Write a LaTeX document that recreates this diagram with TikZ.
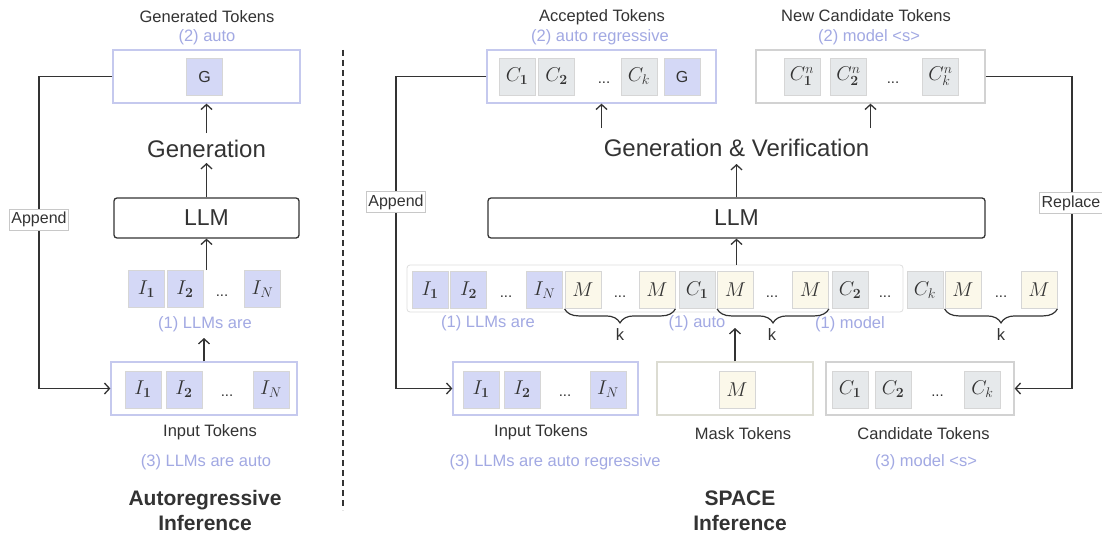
\RequirePackage{fix-cm}
\documentclass[tikz,border=0pt]{standalone}
\usepackage[no-math]{fontspec}
\setmainfont{Liberation Sans}
\usetikzlibrary{arrows.meta,decorations.pathreplacing,calc}
\definecolor{ink}{HTML}{333333}
\definecolor{lav}{HTML}{D4D8F6}
\definecolor{lavline}{HTML}{C5C9EE}
\definecolor{purp}{HTML}{A2A9E3}
\definecolor{cgray}{HTML}{E6E9EB}
\definecolor{cyel}{HTML}{FBF8EA}
\definecolor{cellline}{HTML}{D6D6D6}
\definecolor{boxgray}{HTML}{D2D2D2}
\definecolor{rowgray}{HTML}{DEDEDE}
\definecolor{maskgray}{HTML}{DCDCD2}
\definecolor{taggray}{HTML}{C8C8C8}
\tikzset{
 tok/.style={draw=cellline, line width=0.8pt, minimum width=36pt, minimum height=37pt, inner sep=0pt, font=\fontsize{20}{22}\selectfont, text=ink},
 tI/.style={tok, fill=lav},
 tC/.style={tok, fill=cgray},
 tM/.style={tok, fill=cyel},
 tG/.style={tok, fill=lav, font=\fontsize{16}{18}\selectfont},
 dt/.style={anchor=base, inner sep=0pt, font=\fontsize{15}{18}\selectfont, text=ink},
 grpL/.style={draw=lavline, line width=1.3pt, fill=white, inner sep=0pt, minimum height=53pt},
 grpG/.style={draw=boxgray, line width=1.3pt, fill=white, inner sep=0pt, minimum height=53pt},
 grpM/.style={draw=maskgray, line width=1.3pt, fill=white, inner sep=0pt, minimum height=53pt},
 llmbox/.style={draw=ink, line width=1.3pt, rounded corners=3pt, inner sep=0pt, minimum height=40pt, font=\fontsize{23}{26}\selectfont, text=ink},
 lab/.style={anchor=base, inner sep=0pt, font=\fontsize{16.5}{19}\selectfont, text=ink},
 plab/.style={lab, text=purp},
 big/.style={anchor=base, inner sep=0pt, font=\fontsize{24}{28}\selectfont, text=ink},
 ttl/.style={anchor=base, inner sep=0pt, font=\fontsize{21}{24}\selectfont\bfseries, text=ink},
 tag/.style={draw=taggray, line width=0.8pt, fill=white, inner xsep=2pt, inner ysep=3pt, font=\fontsize{16}{18}\selectfont, text=ink},
 arr/.style={draw=ink, line width=1.3pt, -{Straight Barb[length=5pt,width=11pt]}},
 brc/.style={draw=ink, line width=1.2pt, decorate, decoration={brace, mirror, amplitude=14pt}},
}
\begin{document}
\begin{tikzpicture}[x=1pt,y=-1pt]
\fill[white] (0,0) rectangle (1102,535);
\useasboundingbox (0,0) rectangle (1102,535);

% ---------------- Left panel ----------------
\node[lab] (gtl) at (207,22.5) {Generated Tokens};
\node[plab] (gtp) at (207,41.5) {(2) auto};
\node[grpL, minimum width=187pt] (gbox) at (206.5,76.5) {};
\node[tG] (g1) at (204.5,76.5) {G};
\node[big] (gen) at (206.5,157) {Generation};
\node[llmbox, minimum width=185pt] (llm1) at (206.5,218) {LLM};

\node[tI] (a1) at (146.5,289) {$I_{\mathbf{1}}$};
\node[tI] (a2) at (185,289) {$I_{\mathbf{2}}$};
\node[dt] (ad) at (222,296) {...};
\node[tI] (aN) at (262.5,289) {$I_N$};
\node[plab] (al) at (205,328) {(1) LLMs are};

\node[grpL, minimum width=186pt] (lin) at (204,388.5) {};
\node[tI] (b1) at (143,389.5) {$I_{\mathbf{1}}$};
\node[tI] (b2) at (184,389.5) {$I_{\mathbf{2}}$};
\node[dt] (bd) at (227,396) {...};
\node[tI] (bN) at (271,389.5) {$I_N$};
\node[lab] (lit) at (210,436.5) {Input Tokens};
\node[plab] (lip) at (206,466) {(3) LLMs are auto};
\node[ttl] (t1a) at (205,505) {Autoregressive};
\node[ttl] (t1b) at (205,530.5) {Inference};

\coordinate (genb) at (206.5,163);
\coordinate (gent) at (206.5,133);
\coordinate (arowt) at (206.5,270);
\coordinate (alb) at (204,338);
\draw[arr] (llm1.north) -- (genb);
\draw[arr] (gent) -- (gbox.south);
\draw[arr] (arowt) -- (llm1.south);
\draw[arr] (lin.north) -- (alb);

\coordinate (la1) at (39,76.5);
\draw[arr] (gbox.west) -- (la1) |- (lin.west);
\node[tag] (app1) at (39,219.5) {Append};

% divider
\coordinate (d1) at (343,50);
\coordinate (d2) at (343,510);
\draw[ink, line width=1.1pt, dash pattern=on 6pt off 4pt] (d1) -- (d2);

% ---------------- Right panel ----------------
\node[lab] (att) at (602,21.5) {Accepted Tokens};
\node[plab] (atp) at (600,41.5) {(2) auto regressive};
\node[grpL, minimum width=229pt] (acc) at (601.5,76.5) {};
\node[tC] (c1) at (517,76.5) {$C_{\mathbf{1}}$};
\node[tC] (c2) at (556.5,76.5) {$C_{\mathbf{2}}$};
\node[dt] (cd) at (604,83) {...};
\node[tC] (ck) at (639,76.5) {$C_k$};
\node[tG] (cg) at (682,76.5) {G};

\node[lab] (nct) at (866,21.5) {New Candidate Tokens};
\node[plab] (ncp) at (869,41.5) {(2) model <s>};
\node[grpG, minimum width=229pt] (nc) at (870.5,76.5) {};
\node[tC] (n1) at (802,76.5) {$C^n_{\mathbf{1}}$};
\node[tC] (n2) at (848.5,76.5) {$C^n_{\mathbf{2}}$};
\node[dt] (nd) at (893,83) {...};
\node[tC] (nk) at (940.5,76.5) {$C^n_k$};

\node[big] (gv) at (736.5,156) {Generation \& Verification};
\node[llmbox, minimum width=497pt] (llm2) at (736.5,218) {LLM};

\node[draw=rowgray, line width=0.8pt, rounded corners=3pt, minimum width=496pt, minimum height=47pt, inner sep=0pt] (row) at (655,288.5) {};
\node[tI] (r1) at (430,290) {$I_{\mathbf{1}}$};
\node[tI] (r2) at (468.5,290) {$I_{\mathbf{2}}$};
\node[dt] (rd1) at (506,297) {...};
\node[tI] (rN) at (544.5,290) {$I_N$};
\node[tM] (m1) at (583,290) {$M$};
\node[dt] (rd2) at (620,297) {...};
\node[tM] (m2) at (657,290) {$M$};
\node[tC] (rc1) at (697,290) {$C_{\mathbf{1}}$};
\node[tM] (m3) at (735.5,290) {$M$};
\node[dt] (rd3) at (772,297) {...};
\node[tM] (m4) at (810.5,290) {$M$};
\node[tC] (rc2) at (850,290) {$C_{\mathbf{2}}$};
\node[dt] (rd4) at (885,297) {...};
\node[tC] (rck) at (925,290) {$C_k$};
\node[tM] (m5) at (963,290) {$M$};
\node[dt] (rd5) at (1001,297) {...};
\node[tM] (m6) at (1039,290) {$M$};

\draw[brc] (m1.south west) -- (m2.south east);
\draw[brc] (m3.south west) -- (m4.south east);
\draw[brc] (m5.south west) -- (m6.south east);
\node[lab] (k1) at (620,340) {k};
\node[lab] (k2) at (772,340) {k};
\node[lab] (k3) at (1001,340) {k};
\node[plab] (rl1) at (488,327.5) {(1) LLMs are};
\node[plab] (rl2) at (697,327.5) {(1) auto};
\node[plab] (rl3) at (850,328) {(1) model};

\node[grpL, minimum width=185pt] (rin) at (545.5,388.5) {};
\node[tI] (s1) at (481,389.5) {$I_{\mathbf{1}}$};
\node[tI] (s2) at (522,389.5) {$I_{\mathbf{2}}$};
\node[dt] (sd) at (565,396) {...};
\node[tI] (sN) at (608,389.5) {$I_N$};
\node[lab] (rit) at (541,436.5) {Input Tokens};
\node[plab] (rip) at (555,466) {(3) LLMs are auto regressive};

\node[grpM, minimum width=156pt] (mb) at (735,388.5) {};
\node[tM] (mm) at (737,389.5) {$M$};
\node[lab] (mt) at (743,439) {Mask Tokens};

\node[grpG, minimum width=188pt] (cb) at (920,388.5) {};
\node[tC] (u1) at (850,389.5) {$C_{\mathbf{1}}$};
\node[tC] (u2) at (893,389.5) {$C_{\mathbf{2}}$};
\node[dt] (ud) at (937.5,396) {...};
\node[tC] (uk) at (982.5,389.5) {$C_k$};
\node[lab] (ct) at (923.5,439) {Candidate Tokens};
\node[plab] (cp) at (926,466) {(3) model <s>};

\node[ttl] (t2a) at (740,505) {SPACE};
\node[ttl] (t2b) at (740,530.5) {Inference};

\coordinate (gva) at (601.5,128);
\coordinate (gvb) at (870.5,128);
\coordinate (gvl) at (736.5,164);
\coordinate (mtip) at (735,328);
\draw[arr] (gva) -- (acc.south);
\draw[arr] (gvb) -- (nc.south);
\draw[arr] (llm2.north) -- (gvl);
\draw[arr] (llm2.south |- row.north) -- (llm2.south);
\draw[arr] (mb.north) -- (mtip);

\coordinate (ra) at (396,76.5);
\draw[arr] (acc.west) -- (ra) |- (rin.west);
\node[tag] (app2) at (396,202) {Append};
\coordinate (rr) at (1072,76.5);
\draw[arr] (nc.east) -- (rr) |- (cb.east);
\node[tag] (rep) at (1071,203) {Replace};
\end{tikzpicture}
\end{document}
